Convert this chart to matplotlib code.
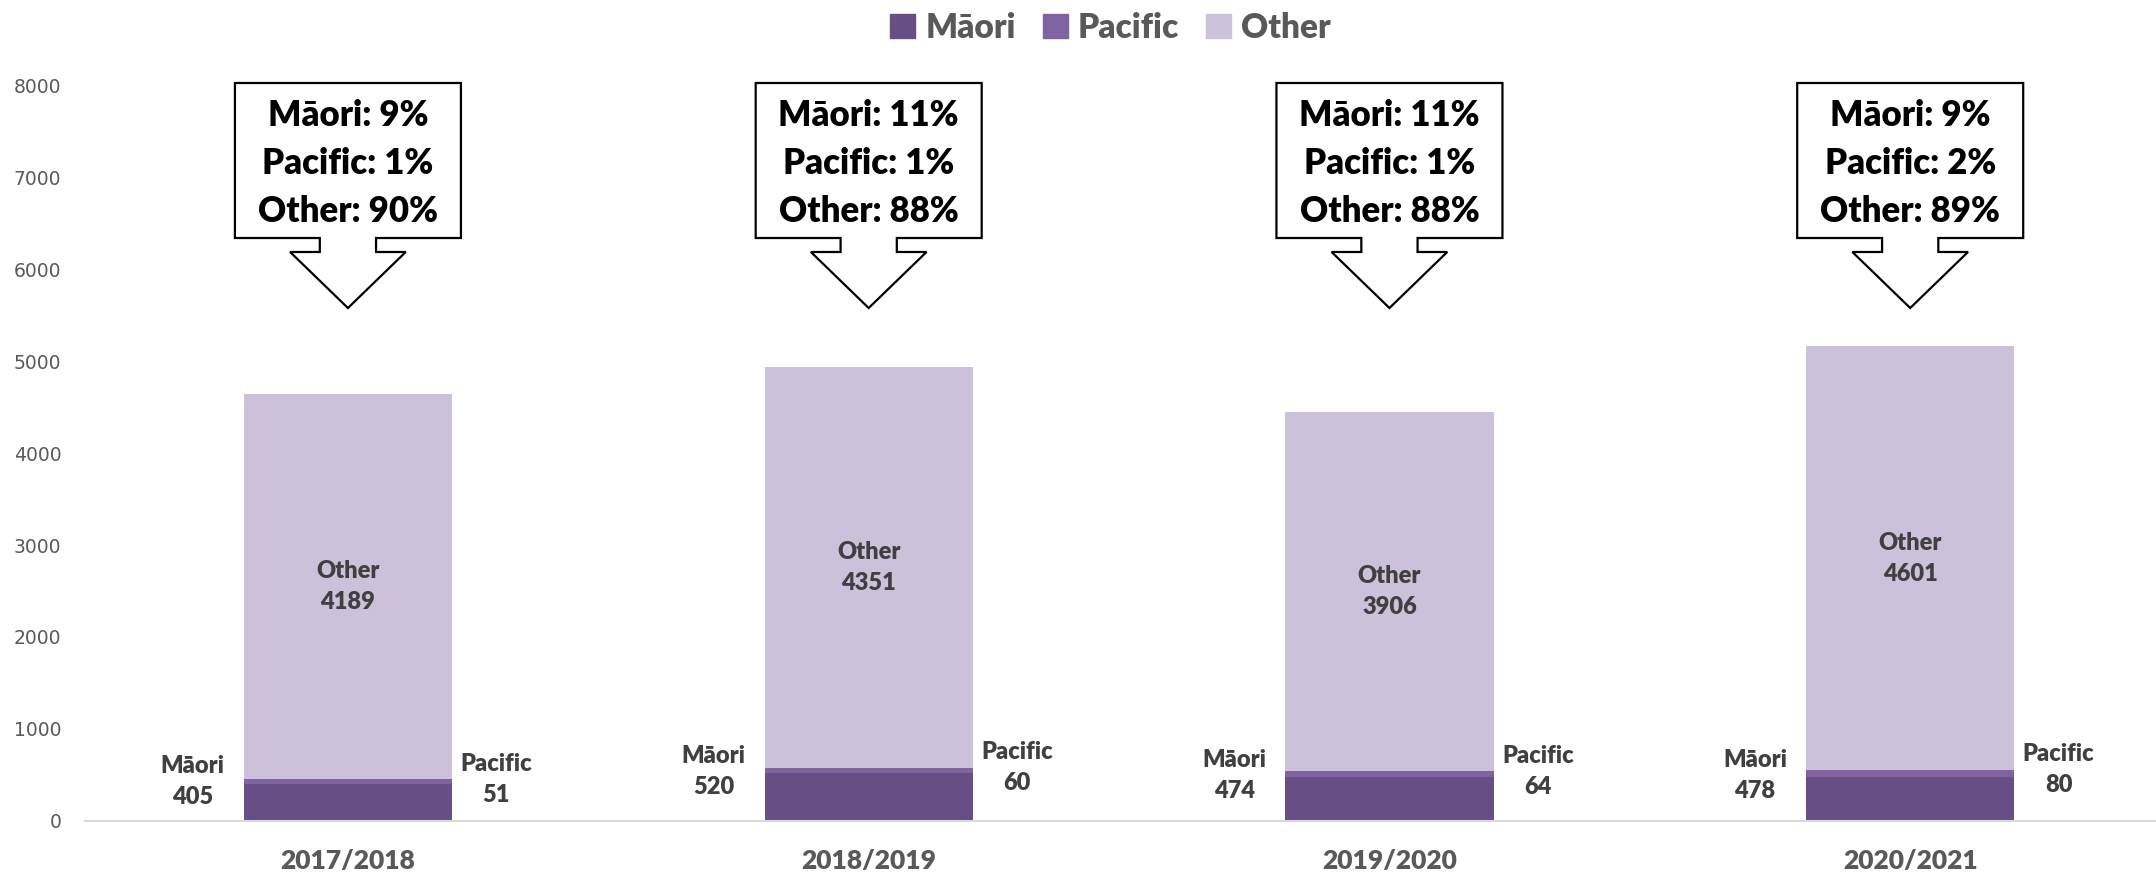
import matplotlib
matplotlib.use('Agg')
import matplotlib.pyplot as plt
from matplotlib.patches import Polygon, Patch
import numpy as np

years = ['2017/2018', '2018/2019', '2019/2020', '2020/2021']
maori = [405, 520, 474, 478]
pacific = [51, 60, 64, 80]
other = [4189, 4351, 3906, 4601]
pct_maori = [9, 11, 11, 9]
pct_pacific = [1, 1, 1, 2]
pct_other = [90, 88, 88, 89]

C_MAORI = '#674f86'
C_PACIFIC = '#8064a2'
C_OTHER = '#ccc1da'
GREY = '#595959'
DARK = '#404040'
FONT = 'Lato'

fig = plt.figure(figsize=(21.56, 8.72), dpi=100)
ax = fig.add_axes([0.0394, 0.0585, 0.9606, 0.844])

x = np.arange(len(years))
w = 0.40
m = np.array(maori)
p = np.array(pacific)
o = np.array(other)
ax.bar(x, m, w, color=C_MAORI, label='Māori', zorder=2)
ax.bar(x, p, w, bottom=m, color=C_PACIFIC, label='Pacific', zorder=2)
ax.bar(x, o, w, bottom=m + p, color=C_OTHER, label='Other', zorder=2)

ax.set_xlim(-0.505, 3.472)
ax.set_ylim(0, 8000)
ax.set_yticks(range(0, 8001, 1000))
ax.tick_params(axis='y', length=0, labelsize=13.5, labelcolor=GREY, pad=17)
ax.set_xticks(x)
ax.set_xticklabels(years, fontfamily=FONT, fontweight='heavy', fontsize=19, color=GREY)
ax.tick_params(axis='x', length=0, pad=20)
for s in ['top', 'right', 'left']:
    ax.spines[s].set_visible(False)
ax.spines['bottom'].set_color('#d9d9d9')
ax.spines['bottom'].set_linewidth(1.5)

lab = dict(fontfamily=FONT, fontweight='heavy', fontsize=17, color=DARK,
           ha='center', va='center', linespacing=1.5, zorder=4)
for i in range(len(years)):
    ax.text(i - 0.298, m[i] + 20, f'Māori\n{maori[i]}', **lab)
    ax.text(i + 0.285, m[i] + p[i], f'Pacific\n{pacific[i]}', **lab)
    ax.text(i, m[i] + p[i] + o[i] / 2, f'Other\n{other[i]}', **lab)

    # down-arrow callout
    bw, sw, hw = 0.217, 0.054, 0.111
    top, bot, sbot, tip = 8022, 6337, 6185, 5576
    pts = [(i - bw, top), (i + bw, top), (i + bw, bot), (i + sw, bot), (i + sw, sbot),
           (i + hw, sbot), (i, tip), (i - hw, sbot), (i - sw, sbot), (i - sw, bot),
           (i - bw, bot)]
    ax.add_patch(Polygon(pts, closed=True, facecolor='white', edgecolor='black',
                         lw=1.6, clip_on=False, zorder=5))
    ax.text(i, (top + bot) / 2 - 30,
            f'Māori: {pct_maori[i]}%\nPacific: {pct_pacific[i]}%\nOther: {pct_other[i]}%',
            fontfamily=FONT, fontweight='heavy', fontsize=25, color='black',
            ha='center', va='center', linespacing=1.55, zorder=6)

handles = [Patch(color=C_MAORI), Patch(color=C_PACIFIC), Patch(color=C_OTHER)]
fig.legend(handles, ['Māori', 'Pacific', 'Other'], loc='center', bbox_to_anchor=(0.515, 0.968),
           ncol=3, frameon=False, handlelength=0.75, handleheight=0.75, handletextpad=0.3,
           columnspacing=0.8, prop={'family': FONT, 'weight': 'heavy', 'size': 24},
           labelcolor=GREY)

fig.savefig('out.png', dpi=100)
